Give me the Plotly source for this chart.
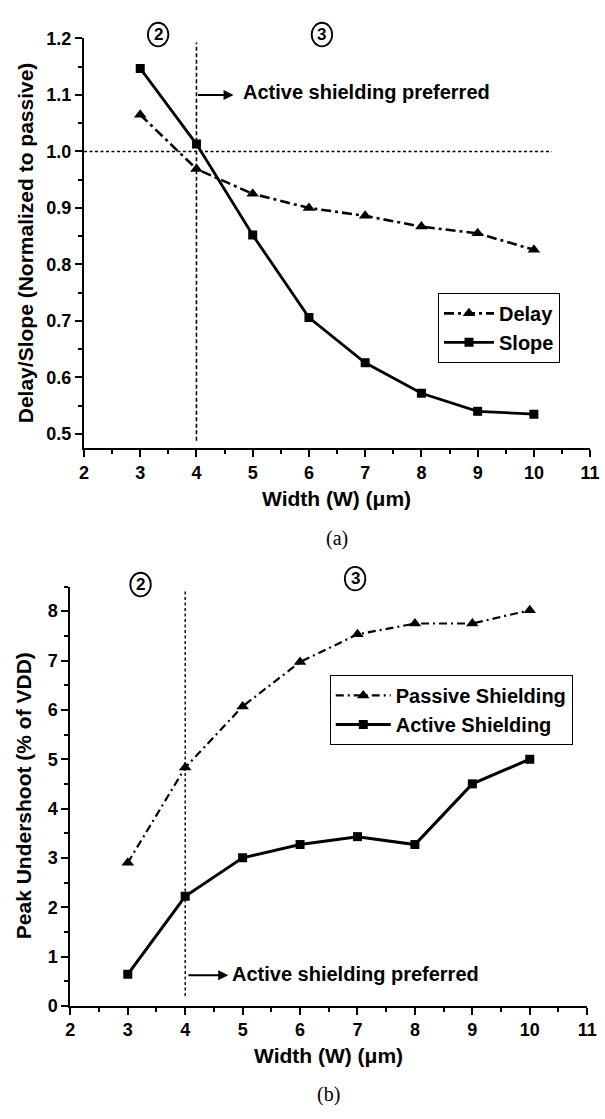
import plotly.graph_objects as go

# ---------------- data ----------------
width_um = [3, 4, 5, 6, 7, 8, 9, 10]
delay_norm = [1.065, 0.969, 0.925, 0.900, 0.886, 0.867, 0.855, 0.826]
slope_norm = [1.147, 1.013, 0.852, 0.706, 0.626, 0.572, 0.540, 0.535]

passive_undershoot = [2.90, 4.83, 6.07, 6.97, 7.53, 7.75, 7.75, 8.02]
active_undershoot = [0.64, 2.22, 3.00, 3.27, 3.43, 3.27, 4.50, 5.00]

x_ticks = [2, 3, 4, 5, 6, 7, 8, 9, 10, 11]
top_y_ticks = [0.5, 0.6, 0.7, 0.8, 0.9, 1.0, 1.1, 1.2]
bot_y_ticks = [0, 1, 2, 3, 4, 5, 6, 7, 8]

W, H = 605, 1119
FONT = "Liberation Sans, Arial, sans-serif"
SERIF = "Liberation Serif, Times New Roman, serif"


def px(x):
    return x / W


def py(y):
    return 1 - y / H


fig = go.Figure()

fig.add_trace(go.Scatter(
    x=width_um, y=delay_norm, name="Delay", mode="lines+markers",
    line=dict(color="black", width=2.6, dash="10px,4px,3px,4px"),
    marker=dict(symbol="triangle-up", size=11, color="black"),
    xaxis="x", yaxis="y", legend="legend"))
fig.add_trace(go.Scatter(
    x=width_um, y=slope_norm, name="Slope", mode="lines+markers",
    line=dict(color="black", width=2.8),
    marker=dict(symbol="square", size=9, color="black"),
    xaxis="x", yaxis="y", legend="legend"))

fig.add_trace(go.Scatter(
    x=width_um, y=passive_undershoot, name="Passive Shielding", mode="lines+markers",
    line=dict(color="black", width=2.2, dash="8px,4px,2px,4px"),
    marker=dict(symbol="triangle-up", size=11, color="black"),
    xaxis="x2", yaxis="y2", legend="legend2"))
fig.add_trace(go.Scatter(
    x=width_um, y=active_undershoot, name="Active Shielding", mode="lines+markers",
    line=dict(color="black", width=3),
    marker=dict(symbol="square", size=9, color="black"),
    xaxis="x2", yaxis="y2", legend="legend2"))

axis_common = dict(
    showline=True, linecolor="black", linewidth=2, mirror=False,
    ticks="outside", ticklen=7, tickwidth=2, tickcolor="black",
    showgrid=False, zeroline=False, ticklabeloverflow="allow",
    tickfont=dict(family=FONT, size=18, color="black", weight="bold"),
)

legend_font = dict(family=FONT, size=20, color="black", weight="bold")

fig.update_layout(
    width=W, height=H,
    margin=dict(l=0, r=0, t=0, b=0),
    paper_bgcolor="white", plot_bgcolor="white",
    font=dict(family=FONT, color="black"),
    showlegend=True,
    xaxis=dict(domain=[px(81), px(600)], range=[2, 11], tickvals=x_ticks,
               minor=dict(ticks="outside", ticklen=4, tickwidth=1.5, dtick=0.5, tick0=2, tickcolor="black"),
               anchor="y", **axis_common),
    yaxis=dict(domain=[py(446), py(29)], range=[0.475, 1.2], tickvals=top_y_ticks,
               tickformat=".1f",
               minor=dict(ticks="outside", ticklen=4, tickwidth=1.5, dtick=0.05, tick0=0.5, tickcolor="black"),
               anchor="x", **axis_common),
    xaxis2=dict(domain=[px(67), px(597)], range=[2, 11], tickvals=x_ticks,
                minor=dict(ticks="outside", ticklen=4, tickwidth=1.5, dtick=0.5, tick0=2, tickcolor="black"),
                anchor="y2", **axis_common),
    yaxis2=dict(domain=[py(1014), py(587)], range=[0, 8.5], tickvals=bot_y_ticks,
                minor=dict(ticks="outside", ticklen=4, tickwidth=1.5, dtick=0.5, tick0=0, tickcolor="black"),
                anchor="x2", **axis_common),
    legend=dict(x=px(444), y=py(288), xanchor="left", yanchor="top",
                bordercolor="black", borderwidth=1, bgcolor="white",
                font=legend_font, itemwidth=50, tracegroupgap=0),
    legend2=dict(x=px(333), y=py(677), xanchor="left", yanchor="top",
                 bordercolor="black", borderwidth=1, bgcolor="white",
                 font=legend_font, itemwidth=55, tracegroupgap=0),
)

shapes = []
# top reference lines
shapes.append(dict(type="line", xref="x", yref="y", x0=4, x1=4, y0=0.488, y1=1.193,
                   line=dict(color="black", width=1.6, dash="4px,2.5px")))
shapes.append(dict(type="line", xref="x", yref="y", x0=2, x1=10.32, y0=1.0, y1=1.0,
                   line=dict(color="black", width=1.6, dash="3px,2.5px")))
# bottom reference line
shapes.append(dict(type="line", xref="x2", yref="y2", x0=4, x1=4, y0=0.2, y1=8.4,
                   line=dict(color="black", width=1.4, dash="3px,2.5px")))

annotations = []


def circled(label, cx, cy):
    shapes.append(dict(type="circle", xref="paper", yref="paper",
                       x0=px(cx - 10.5), x1=px(cx + 10.5), y0=py(cy + 12), y1=py(cy - 12),
                       line=dict(color="black", width=1.8)))
    annotations.append(dict(text=label, xref="paper", yref="paper", x=px(cx), y=py(cy),
                            showarrow=False, xanchor="center", yanchor="middle",
                            font=dict(family=FONT, size=17, color="black", weight="bold")))


circled("2", 157, 25)
circled("3", 325, 25)
circled("2", 139, 585)
circled("3", 359, 579)

# arrows + text
annotations.append(dict(x=4.66, y=1.1, xref="x", yref="y", ax=4.0, ay=1.1, axref="x", ayref="y",
                        text="", showarrow=True, arrowhead=2, arrowsize=1, arrowwidth=2, arrowcolor="black"))
annotations.append(dict(x=4.79, y=1.105, xref="x", yref="y", text="Active shielding preferred",
                        showarrow=False, xanchor="left", yanchor="middle",
                        font=dict(family=FONT, size=20, color="black", weight="bold")))
annotations.append(dict(x=4.75, y=0.62, xref="x2", yref="y2", ax=4.03, ay=0.62, axref="x2", ayref="y2",
                        text="", showarrow=True, arrowhead=2, arrowsize=1, arrowwidth=2, arrowcolor="black"))
annotations.append(dict(x=4.78, y=0.64, xref="x2", yref="y2", text="Active shielding preferred",
                        showarrow=False, xanchor="left", yanchor="middle",
                        font=dict(family=FONT, size=20, color="black", weight="bold")))

# axis titles
annotations.append(dict(text="Delay/Slope (Normalized to passive)", xref="paper", yref="paper",
                        x=px(21), y=py(237), textangle=-90, showarrow=False,
                        xanchor="center", yanchor="middle",
                        font=dict(family=FONT, size=21, color="black", weight="bold")))
annotations.append(dict(text="Width (W) (\u03bcm)", xref="paper", yref="paper",
                        x=px(340), y=py(497), showarrow=False, xanchor="center", yanchor="middle",
                        font=dict(family=FONT, size=21, color="black", weight="bold")))
annotations.append(dict(text="(a)", xref="paper", yref="paper",
                        x=px(340), y=py(538), showarrow=False, xanchor="center", yanchor="middle",
                        font=dict(family=SERIF, size=20, color="black")))

annotations.append(dict(text="Peak Undershoot (% of VDD)", xref="paper", yref="paper",
                        x=px(19), y=py(800), textangle=-90, showarrow=False,
                        xanchor="center", yanchor="middle",
                        font=dict(family=FONT, size=21, color="black", weight="bold")))
annotations.append(dict(text="Width (W) (\u03bcm)", xref="paper", yref="paper",
                        x=px(332), y=py(1065), showarrow=False, xanchor="center", yanchor="middle",
                        font=dict(family=FONT, size=21, color="black", weight="bold")))
annotations.append(dict(text="(b)", xref="paper", yref="paper",
                        x=px(332), y=py(1104), showarrow=False, xanchor="center", yanchor="middle",
                        font=dict(family=SERIF, size=20, color="black")))

fig.update_layout(shapes=shapes, annotations=annotations)

fig.write_html("out.html")
